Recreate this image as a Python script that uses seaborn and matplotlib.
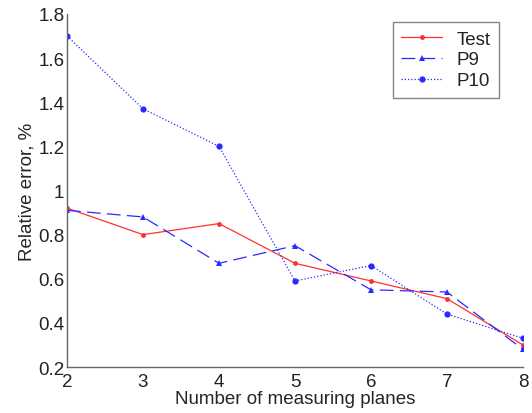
import matplotlib
matplotlib.use("Agg")
import matplotlib.pyplot as plt
import seaborn as sns
import pandas as pd

planes = [2, 3, 4, 5, 6, 7, 8]
test = [0.92, 0.80, 0.85, 0.67, 0.59, 0.51, 0.30]
p9 = [0.91, 0.88, 0.67, 0.75, 0.55, 0.54, 0.28]
p10 = [1.70, 1.37, 1.20, 0.59, 0.66, 0.44, 0.33]
yticks = [0.2, 0.4, 0.6, 0.8, 1.0, 1.2, 1.4, 1.6, 1.8]
ytick_labels = ["0.2", "0.4", "0.6", "0.8", "1", "1.2", "1.4", "1.6", "1.8"]

sns.set_style("white")
plt.rcParams['font.family'] = ['Liberation Sans', 'DejaVu Sans']
plt.rcParams['text.color'] = '#222222'
plt.rcParams['xtick.labelcolor'] = '#222222'
plt.rcParams['ytick.labelcolor'] = '#222222'

fs = 13.5
fig = plt.figure(figsize=(5.32, 4.14), dpi=100)
ax = fig.add_axes([0.126, 0.111, 0.857, 0.853])

df = pd.DataFrame({"planes": planes, "Test": test, "P9": p9, "P10": p10})

sns.lineplot(data=df, x="planes", y="Test", ax=ax, color="#ff3030", linewidth=0.9,
             marker=".", markersize=7, markeredgewidth=0, label="Test")
sns.lineplot(data=df, x="planes", y="P9", ax=ax, color="#2a2aff", linewidth=0.9,
             marker="^", markersize=4.5, markeredgewidth=0, dashes=(11, 5), label="P9")
sns.lineplot(data=df, x="planes", y="P10", ax=ax, color="#2a2aff", linewidth=0.9,
             marker="o", markersize=4.5, markeredgewidth=0, label="P10")
ax.lines[2].set_linestyle((0, (1, 1.6)))

ax.set_xlim(2, 8)
ax.set_ylim(0.2, 1.8)
ax.set_xticks(planes)
ax.set_yticks(yticks)
ax.set_yticklabels(ytick_labels)
ax.set_xlabel("Number of measuring planes", fontsize=fs, labelpad=0)
ax.set_ylabel("Relative error, %", fontsize=fs, labelpad=2)
ax.tick_params(direction="in", length=4, width=0.8, color="#555555",
               labelsize=fs, pad=2)
ax.tick_params(axis="x", pad=4)
for s in ["top", "right"]:
    ax.spines[s].set_visible(False)
for s in ["left", "bottom"]:
    ax.spines[s].set_color("#666666")
    ax.spines[s].set_linewidth(1.0)

leg = ax.legend(loc="upper right", bbox_to_anchor=(0.947, 0.977), borderaxespad=0,
                fontsize=fs, frameon=True, fancybox=False, handlelength=2.2,
                borderpad=0.45, labelspacing=0.2, handletextpad=0.75)
leg.get_frame().set_edgecolor("#666666")
leg.get_frame().set_linewidth(1.0)

fig.savefig("out.png", dpi=100)
